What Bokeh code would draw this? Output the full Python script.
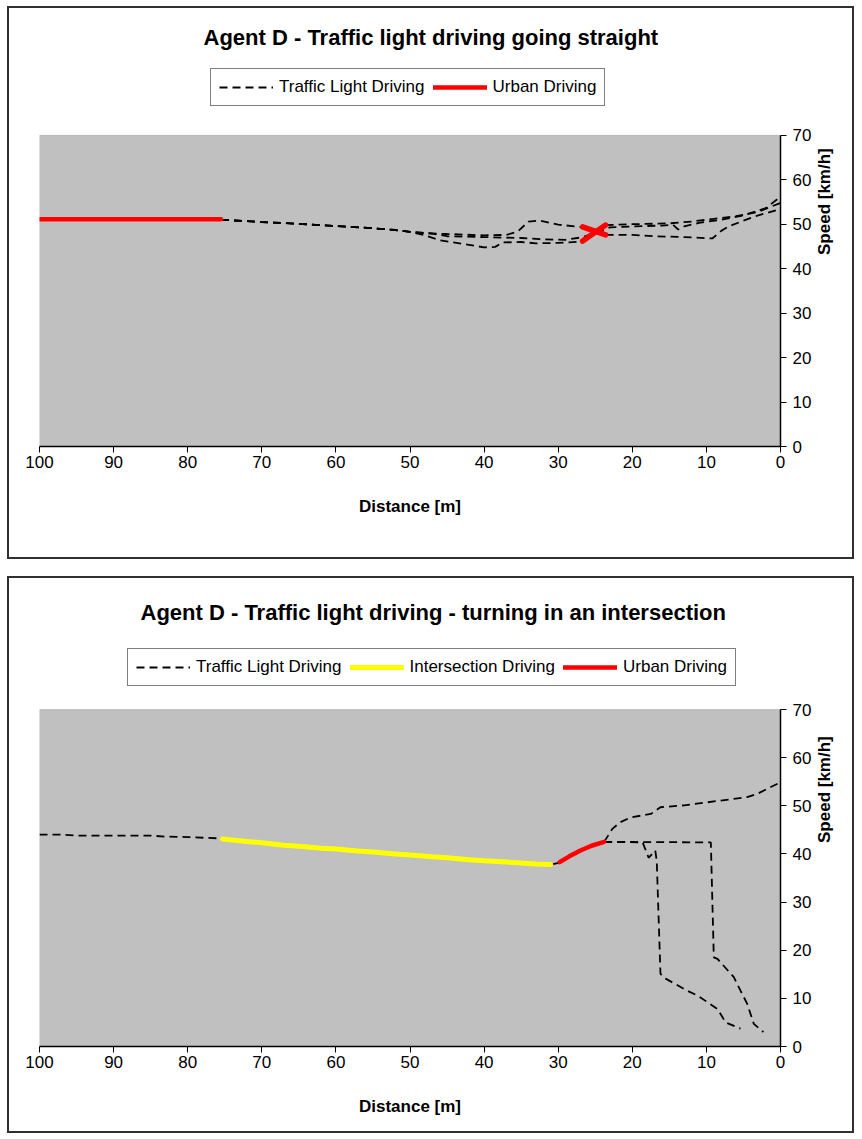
import math
from bokeh.plotting import figure
from bokeh.models import Range1d, Legend, LegendItem, FixedTicker, BoxAnnotation
from bokeh.layouts import column
from bokeh.embed import file_html
from bokeh.resources import INLINE

FONT = "Liberation Sans"

# ---------------- data: top chart (going straight) ----------------
top_title = "Agent D - Traffic light driving going straight"
top_urban_x = [100, 75.5]
top_urban_y = [51.1, 51.1]
# dashed traffic-light traces (shared start, then diverging)
top_a_x = [75.5, 70, 65, 60, 55, 52, 50, 48, 45, 40, 37, 35.5, 34, 32.5, 30, 27]
top_a_y = [51.0, 50.5, 50.1, 49.6, 49.1, 48.7, 48.3, 48.0, 47.8, 47.5, 47.6, 48.3, 50.6, 50.8, 49.9, 49.4]
top_a_red_x = [26.7, 23.6]
top_a_red_y = [49.4, 47.6]
top_a2_x = [23.6, 20, 17, 13, 9.2, 8, 7, 5, 3, 0]
top_a2_y = [47.6, 47.6, 47.3, 47.1, 46.8, 48.5, 49.5, 50.8, 52.0, 53.4]

top_b_x = [75.5, 70, 65, 60, 55, 52, 50, 48, 46, 43, 40, 38.5, 37.5, 35, 33, 30, 27]
top_b_y = [51.0, 50.5, 50.1, 49.6, 49.1, 48.7, 48.3, 47.5, 46.4, 45.6, 44.8, 44.9, 45.9, 46.0, 45.7, 45.8, 46.1]
top_b_red_x = [26.7, 23.6]
top_b_red_y = [46.2, 49.8]
top_b2_x = [23.6, 20, 15, 12, 9, 6, 3, 0]
top_b2_y = [49.8, 50.0, 50.2, 50.6, 51.2, 51.8, 52.8, 54.8]

top_c_x = [75.5, 70, 65, 60, 55, 52, 50, 47, 45, 40, 35, 32, 29, 27, 25, 23, 20, 16, 14.5, 13.8, 13, 11, 8, 5, 2, 0]
top_c_y = [51.0, 50.5, 50.1, 49.6, 49.1, 48.7, 48.3, 47.9, 47.3, 47.1, 46.9, 46.6, 46.5, 47.0, 48.0, 49.3, 49.5, 49.7, 49.9, 48.8, 49.5, 50.3, 51.0, 52.0, 53.6, 56.2]

# ---------------- data: bottom chart (turning) ----------------
bot_title = "Agent D - Traffic light driving - turning in an intersection"
bot_tl_x = [100, 97, 95, 90, 85, 83, 80, 75.3]
bot_tl_y = [44.0, 44.0, 43.8, 43.8, 43.8, 43.6, 43.5, 43.2]
bot_int_x = [75.3, 72, 70, 67, 65, 62, 60, 57, 55, 52, 50, 47, 45, 42, 40, 37, 35, 33, 31]
bot_int_y = [43.1, 42.6, 42.3, 41.8, 41.6, 41.2, 41.0, 40.6, 40.4, 40.0, 39.8, 39.4, 39.2, 38.8, 38.6, 38.3, 38.1, 37.9, 37.8]
bot_tl_mid_x = [31, 29.8]
bot_tl_mid_y = [37.8, 38.2]
bot_urban_x = [29.8, 28.5, 27, 25.5, 23.8]
bot_urban_y = [38.3, 39.5, 40.7, 41.7, 42.5]
bot_t1_x = [23.8, 22.7, 21.6, 20.2, 17.5, 16.2, 13.0, 8.5, 4.5, 3.1, 0]
bot_t1_y = [42.5, 45.2, 46.6, 47.6, 48.3, 49.7, 50.1, 51.0, 51.8, 52.5, 54.9]
bot_t2_x = [23.8, 9.4, 9.0, 8.5, 6.3, 5.4, 4.5, 3.6, 2.3]
bot_t2_y = [42.5, 42.4, 18.5, 18.2, 14.4, 11.6, 8.9, 4.7, 3.0]
bot_t3_x = [23.8, 18.6, 17.8, 16.9, 16.7, 16.2, 15.5, 12.6, 11.2, 8.5, 7.4, 5.4]
bot_t3_y = [42.5, 42.4, 39.2, 40.7, 38.5, 15.1, 14.1, 11.6, 10.6, 7.8, 5.0, 3.7]

x_ticks = list(range(0, 101, 10))
y_ticks = list(range(0, 71, 10))
Y_MAX = 70

DASH = "8 5"


def make_fig(title, title_offset, height, plot_h, extra_h, bottom):
    # the frame is extended upwards by extra_h pixels so that the legend
    # (which lives inside the frame) can sit above the grey plot area
    frame_h = plot_h + extra_h
    y_end = Y_MAX * frame_h / plot_h
    p = figure(width=847, height=height,
               x_range=Range1d(100, 0), y_range=Range1d(0, y_end),
               y_axis_location="right", output_backend="svg",
               toolbar_location=None,
               min_border_left=30, min_border_right=76,
               min_border_top=height - frame_h - bottom,
               min_border_bottom=bottom)
    p.title.text = title
    p.title.align = "left"
    p.title.offset = title_offset
    p.title.standoff = 28
    p.title.text_font = FONT
    p.title.text_font_size = "22px"
    p.title.text_font_style = "bold"
    p.title.text_color = "black"
    p.background_fill_color = "white"
    p.border_fill_color = "white"
    p.outline_line_color = None
    p.xgrid.grid_line_color = None
    p.ygrid.grid_line_color = None
    p.add_layout(BoxAnnotation(bottom=0, top=Y_MAX, fill_color="#C0C0C0", fill_alpha=1,
                               line_color="#808080", line_width=1, level="underlay"))
    for ax in (p.xaxis, p.yaxis):
        ax.axis_line_color = "black"
        ax.axis_line_width = 1.5
        ax.major_tick_line_color = "black"
        ax.major_tick_in = 0
        ax.major_tick_out = 6
        ax.minor_tick_line_color = None
        ax.major_label_text_font = FONT
        ax.major_label_text_font_size = "17px"
        ax.major_label_text_color = "black"
        ax.axis_label_text_font = FONT
        ax.axis_label_text_font_size = "17px"
        ax.axis_label_text_font_style = "bold"
        ax.axis_label_text_color = "black"
    p.xaxis.ticker = FixedTicker(ticks=x_ticks)
    p.yaxis.ticker = FixedTicker(ticks=y_ticks)
    p.yaxis.bounds = (0, Y_MAX)
    p.xaxis.axis_label = "Distance [m]"
    p.yaxis.axis_label = "Speed [km/h]"
    # same visual rotation as +90deg (reads bottom-to-top), but anchored at its end
    p.yaxis.axis_label_orientation = -3 * math.pi / 2
    p.xaxis.major_label_standoff = 3
    p.yaxis.major_label_standoff = 6
    p.xaxis.axis_label_standoff = 26
    p.yaxis.axis_label_standoff = 10
    p.styles = {"border": "2px solid #303030"}
    return p


def dashed(p, xs, ys):
    return p.line(xs, ys, line_color="black", line_width=1.8, line_dash=DASH)


def solid(p, xs, ys, color, width=4.5):
    return p.line(xs, ys, line_color=color, line_width=width, line_cap="round")


def make_legend(items, loc):
    lg = Legend(items=items, orientation="horizontal", location=loc,
                label_text_font=FONT, label_text_font_size="17px",
                label_text_color="black", glyph_width=54, glyph_height=20,
                label_standoff=6, spacing=8, padding=8, margin=0,
                border_line_color="black", border_line_width=1,
                background_fill_color="white", background_fill_alpha=1)
    return lg


# ---------- top figure ----------
p1 = make_fig(top_title, 164, 553, 312, 72, 115)
d1 = dashed(p1, top_a_x, top_a_y)
dashed(p1, top_b_x, top_b_y)
dashed(p1, top_c_x, top_c_y)
dashed(p1, top_a2_x, top_a2_y)
dashed(p1, top_b2_x, top_b2_y)
r1 = solid(p1, top_urban_x, top_urban_y, "#FF0000")
solid(p1, top_a_red_x, top_a_red_y, "#FF0000", 5.5)
solid(p1, top_b_red_x, top_b_red_y, "#FF0000", 5.5)
p1.add_layout(make_legend([
    LegendItem(label="Traffic Light Driving", renderers=[d1]),
    LegendItem(label="Urban Driving", renderers=[r1]),
], (171, 340)))

# ---------- bottom figure ----------
p2 = make_fig(bot_title, 101, 557, 337, 70, 89)
p2.title.standoff = 30
d2 = dashed(p2, bot_tl_x, bot_tl_y)
dashed(p2, bot_tl_mid_x, bot_tl_mid_y)
dashed(p2, bot_t1_x, bot_t1_y)
dashed(p2, bot_t2_x, bot_t2_y)
dashed(p2, bot_t3_x, bot_t3_y)
y2 = solid(p2, bot_int_x, bot_int_y, "#FFFF00", 5)
r2 = solid(p2, bot_urban_x, bot_urban_y, "#FF0000")
p2.add_layout(make_legend([
    LegendItem(label="Traffic Light Driving", renderers=[d2]),
    LegendItem(label="Intersection Driving", renderers=[y2]),
    LegendItem(label="Urban Driving", renderers=[r2]),
], (88, 360)))

layout = column(p1, p2, spacing=17, styles={"margin-left": "7px", "margin-top": "6px"})

open("out.html", "w").write(file_html(layout, INLINE))
